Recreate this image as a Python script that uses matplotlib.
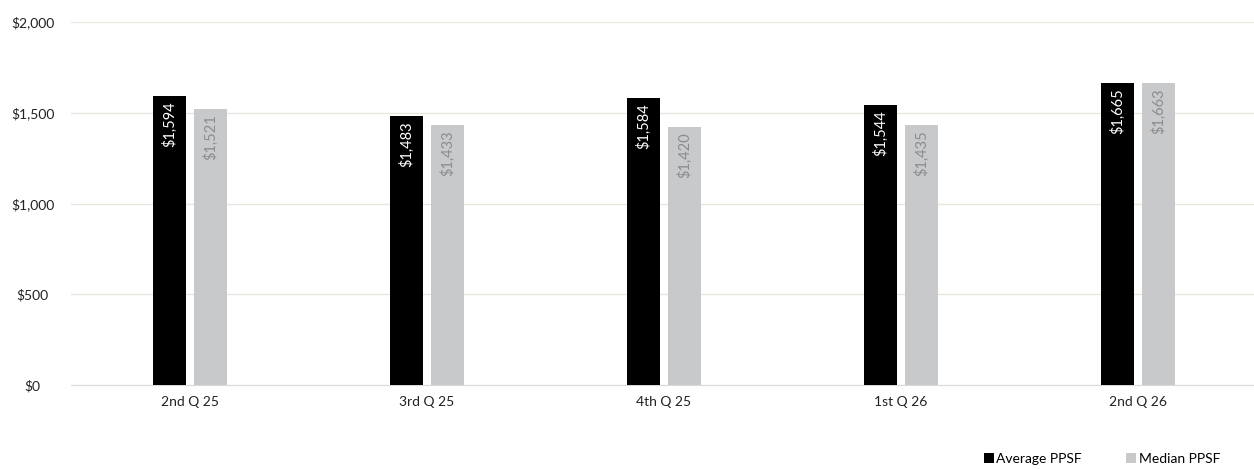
import matplotlib.pyplot as plt
import numpy as np

plt.rcParams['font.family'] = ['Lato', 'DejaVu Sans']

quarters = ["2nd Q 25", "3rd Q 25", "4th Q 25", "1st Q 26", "2nd Q 26"]
avg_ppsf = [1594, 1483, 1584, 1544, 1665]
median_ppsf = [1521, 1433, 1420, 1435, 1663]
yticks = [0, 500, 1000, 1500, 2000]

black = "#000000"
grey = "#c8c9cb"

fig = plt.figure(figsize=(12.54, 4.69), dpi=100)
ax = fig.add_axes([0.057, 0.179, 0.945, 0.774])

x = np.arange(len(quarters))
w = 0.14
off = 0.087
b1 = ax.bar(x - off, avg_ppsf, w, color=black, label="Average PPSF", zorder=3)
b2 = ax.bar(x + off, median_ppsf, w, color=grey, label="Median PPSF", zorder=3)

for rect, v in zip(b1, avg_ppsf):
    ax.text(rect.get_x() + rect.get_width() / 2, v - 30, "${:,}".format(v),
            rotation=90, ha="center", va="top", color="white", fontsize=10.5, zorder=4)
for rect, v in zip(b2, median_ppsf):
    ax.text(rect.get_x() + rect.get_width() / 2, v - 30, "${:,}".format(v),
            rotation=90, ha="center", va="top", color="#8c8c8c", fontsize=10.5, zorder=4)

ax.set_xlim(-0.5, len(quarters) - 0.5)
ax.set_ylim(0, 2000)
ax.set_yticks(yticks)
ax.set_yticklabels(["${:,}".format(t) for t in yticks], fontsize=10, color="#222222",
                   ha="center")
ax.set_xticks(x)
ax.set_xticklabels(quarters, fontsize=10, color="#222222")
ax.tick_params(length=0, pad=8)
ax.tick_params(axis="y", pad=28)
ax.grid(axis="y", color="#e8e5df", linewidth=0.9, zorder=0)
for s in ["top", "right", "left"]:
    ax.spines[s].set_visible(False)
ax.spines["bottom"].set_color("#d9d9d9")

ax.legend(loc="center right", bbox_to_anchor=(0.98, -0.204), ncol=2, frameon=False,
          fontsize=10, handlelength=0.7, handleheight=0.7, handletextpad=0.2,
          columnspacing=3.2)

fig.savefig("out.png", dpi=100)
